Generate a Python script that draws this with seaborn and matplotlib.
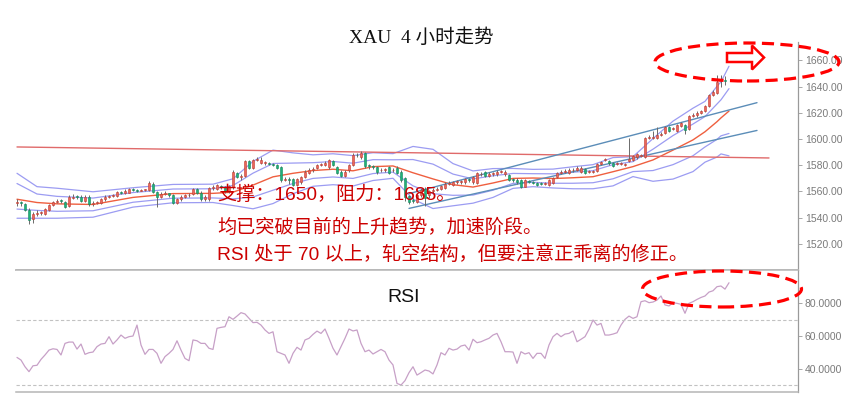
import numpy as np
import pandas as pd
import seaborn as sns
import matplotlib.pyplot as plt
from matplotlib.patches import Ellipse, Polygon

sns.set_style("white")
plt.rcParams['font.family'] = ['Liberation Sans', 'Noto Sans CJK SC', 'DejaVu Sans']

# XAU 4h candles (oldest -> newest)
candle_open = [
    1551, 1552, 1550, 1546, 1539, 1543, 1543.5, 1543, 1546, 1549.6,
    1552, 1553, 1552, 1549, 1555, 1556, 1556, 1553, 1556, 1550,
    1551, 1551, 1554, 1556, 1556.5, 1556.5, 1559.6, 1559, 1559, 1561.5,
    1561, 1560.5, 1561, 1561, 1566, 1559.5, 1555.7, 1558, 1558.5, 1557,
    1551, 1554, 1556, 1557, 1558, 1561.8, 1559, 1554, 1554, 1562.6,
    1562, 1564, 1563.5, 1560, 1563, 1574, 1571, 1572, 1583, 1578,
    1584, 1582, 1582, 1581.5, 1580.5, 1580, 1578.6, 1569, 1569.5, 1569.5,
    1565, 1567, 1571, 1574, 1576, 1578, 1580, 1580.5, 1578.6, 1583,
    1578.6, 1575, 1572, 1576, 1580, 1587.8, 1586, 1589, 1579.5, 1579,
    1578.6, 1576, 1576.5, 1578.6, 1576, 1578, 1574.8, 1570, 1556.5, 1553.5,
    1552, 1557, 1562, 1557, 1560, 1561, 1562, 1562.6, 1566, 1565,
    1567, 1567, 1567, 1569, 1567, 1566.4, 1573, 1574.8, 1572, 1573,
    1573, 1575, 1573, 1572.5, 1568.7, 1569, 1568.7, 1563.5, 1568, 1567,
    1566.5, 1566, 1566, 1565, 1566.4, 1571, 1574, 1575, 1574, 1576,
    1576.5, 1575, 1577, 1574.8, 1575, 1575.6, 1581, 1584, 1583, 1581.7,
    1581, 1581, 1580, 1583, 1584, 1586, 1587, 1586, 1601, 1601,
    1600.8, 1603, 1604.6, 1609, 1607.6, 1606, 1610, 1610.7, 1607.6, 1617.5,
    1618, 1620, 1621.4, 1625, 1633.6, 1635, 1645, 1645, 1665]
candle_close = [
    1552, 1551, 1546, 1538, 1543, 1543.5, 1544, 1546.5, 1549.6, 1552,
    1553, 1552.5, 1548, 1555.7, 1556, 1555.5, 1553, 1556, 1550, 1551,
    1551.5, 1554, 1556, 1556.5, 1556.5, 1559.6, 1559, 1560.5, 1561.8, 1561,
    1560.5, 1561, 1561, 1566.4, 1559.5, 1555.7, 1558, 1558.5, 1557, 1551,
    1554, 1556, 1557, 1557.5, 1561.8, 1559, 1554, 1556, 1562.6, 1563,
    1565, 1563.5, 1560, 1564, 1575, 1571, 1571.5, 1583, 1578, 1584,
    1584.5, 1584, 1582, 1581, 1580, 1578, 1568.7, 1569.5, 1569, 1565,
    1569.5, 1571, 1575, 1576.5, 1577, 1580, 1580.5, 1582, 1584, 1580,
    1574, 1572, 1575, 1580, 1587.8, 1587.5, 1589, 1579, 1579.4, 1578.6,
    1574.5, 1576.6, 1576.5, 1574, 1576.6, 1574, 1568.7, 1555.7, 1552, 1553,
    1557, 1561, 1555, 1560, 1561, 1562, 1564, 1566, 1566.4, 1567,
    1567, 1567.5, 1569.5, 1568.7, 1571, 1574, 1573, 1571.7, 1573, 1574,
    1575, 1575, 1575, 1568.7, 1568.5, 1567, 1563.5, 1568.7, 1567.5, 1566.5,
    1565, 1565.5, 1566.4, 1568.7, 1570, 1574, 1575, 1575.5, 1576, 1576,
    1577.5, 1578, 1574, 1575, 1575, 1581, 1582.5, 1584, 1581.5, 1579.4,
    1581, 1581, 1580, 1585, 1587, 1588.5, 1587, 1600.8, 1601.5, 1601,
    1603, 1603, 1609, 1606, 1607.6, 1610.7, 1612, 1607, 1617.5, 1618,
    1620, 1621, 1625, 1633.6, 1636, 1643.5, 1645, 1644.5, 1663.5]
candle_high = [
    1554, 1553, 1551, 1547, 1544, 1546, 1545, 1547, 1550.5, 1553,
    1554, 1554, 1553, 1557, 1558, 1557, 1557, 1557, 1557, 1552.5,
    1553, 1555, 1557, 1557.5, 1558, 1560.5, 1560.5, 1561.5, 1562.5, 1562.5,
    1562, 1562, 1562, 1568, 1567, 1560, 1559.5, 1560, 1559, 1558,
    1555, 1557, 1558, 1558.5, 1562.5, 1562.5, 1560, 1557, 1563.5, 1565,
    1566, 1565, 1564, 1565, 1576, 1575, 1573, 1584, 1584, 1585,
    1586, 1586, 1583.5, 1582.5, 1581.5, 1581, 1579, 1571, 1571, 1570,
    1570, 1572, 1576, 1577.5, 1578.5, 1581, 1582, 1583, 1585, 1584,
    1579.5, 1576, 1576, 1581, 1589, 1589, 1591, 1590, 1581, 1580,
    1579.5, 1578, 1578, 1579.5, 1578, 1579, 1576, 1571, 1557.5, 1555,
    1558, 1562.5, 1563, 1561, 1562.5, 1563.5, 1565, 1567, 1568, 1568,
    1568.5, 1569, 1570.5, 1570.5, 1572, 1575, 1574.5, 1575.5, 1574.5, 1575,
    1576, 1576.5, 1576, 1573.5, 1570, 1570, 1569.5, 1569.5, 1569, 1568,
    1567, 1567, 1567.5, 1569.5, 1571, 1575, 1576, 1577, 1577.5, 1577.5,
    1579, 1579, 1578, 1576.5, 1576.5, 1582, 1583.5, 1585.5, 1584, 1582.5,
    1582.5, 1582.5, 1581.5, 1601, 1588, 1589.5, 1588.5, 1601.5, 1603, 1606,
    1609, 1605, 1610, 1610, 1609, 1611.5, 1613, 1611.5, 1618.5, 1620,
    1621, 1622, 1626, 1634.5, 1637, 1649, 1649, 1648, 1666]
candle_low = [
    1549, 1549, 1545, 1535, 1536, 1541, 1542, 1542, 1545, 1548.5,
    1551, 1551, 1547, 1548, 1554, 1554, 1552, 1552, 1549, 1549,
    1550, 1550, 1553, 1555, 1555.5, 1556, 1558, 1558, 1558.5, 1560,
    1559.5, 1560, 1560, 1560.5, 1559, 1548, 1555, 1557, 1556, 1550,
    1550, 1553, 1555, 1556, 1557, 1558, 1553, 1553, 1553, 1561,
    1561, 1562, 1559, 1559, 1562, 1570, 1569, 1571, 1577, 1577,
    1583, 1581, 1580.5, 1580, 1579, 1577, 1567, 1568, 1566, 1564,
    1564, 1566, 1570, 1573, 1575, 1577, 1579, 1579.5, 1577, 1579,
    1573, 1571, 1571, 1575, 1579, 1586, 1585, 1578, 1577, 1577,
    1573.5, 1575, 1575, 1573, 1575, 1573, 1567.5, 1553, 1550.5, 1551,
    1551, 1556, 1549, 1555, 1558.5, 1560, 1561, 1562, 1565, 1564,
    1566, 1566, 1566, 1567.5, 1566, 1565.5, 1572, 1571, 1571, 1572,
    1572, 1574, 1572, 1568, 1567.5, 1566, 1562.5, 1563, 1566.5, 1565.5,
    1564, 1564.5, 1565, 1564, 1565.5, 1570, 1573, 1574, 1573, 1575,
    1575.5, 1574, 1573, 1574, 1574, 1575, 1580, 1583, 1580.5, 1578.5,
    1580, 1580, 1579, 1582.5, 1583, 1585, 1586, 1585.5, 1600, 1600,
    1600, 1602, 1604, 1605, 1606.5, 1605.5, 1609, 1604, 1607, 1616.5,
    1617, 1619, 1620.5, 1624.5, 1632.5, 1634, 1640, 1641, 1663]

# band lines (20-period average with 1 and 2 sigma envelopes), sampled by candle
band_idx = [0, 5, 10, 19, 29, 39, 49, 54, 59, 64, 69, 74, 79, 84, 89, 94, 99, 104,
            109, 114, 119, 124, 129, 134, 139, 144, 149, 154, 159, 164, 169, 172,
            175, 176, 178]
bb_upper2 = [1573.8, 1563.6, 1562.4, 1559.7, 1562.8, 1565.3, 1565.5, 1569.6, 1582.9,
             1591.5, 1589.4, 1587.9, 1588.7, 1587.3, 1589.5, 1588.8, 1594.3, 1592.1,
             1581.2, 1575.6, 1577.4, 1577.5, 1576.8, 1577.0, 1578.8, 1580.4, 1585.8,
             1586.5, 1600.3, 1613.6, 1623.5, 1628.7, 1640.2, 1643.6, 1655.5]
bb_upper1 = [1566.0, 1558.0, 1556.2, 1554.9, 1559.1, 1561.8, 1562.0, 1564.5, 1573.9,
             1581.3, 1581.6, 1581.9, 1582.8, 1581.5, 1584.2, 1584.1, 1584.3, 1580.8,
             1573.2, 1569.5, 1571.9, 1573.7, 1573.5, 1573.4, 1574.6, 1575.8, 1580.4,
             1582.7, 1592.2, 1602.6, 1611.4, 1617.1, 1626.7, 1629.9, 1638.4]
ma20 = [1554.0, 1551.5, 1550.5, 1550.0, 1555.4, 1558.3, 1558.5, 1559.4, 1564.8,
        1571.1, 1573.8, 1575.9, 1576.9, 1575.7, 1578.9, 1579.4, 1574.2, 1569.5,
        1565.1, 1563.3, 1566.4, 1569.9, 1570.2, 1569.8, 1570.4, 1571.2, 1575.0,
        1578.9, 1584.0, 1591.5, 1599.3, 1605.5, 1613.2, 1616.1, 1621.3]
bb_lower1 = [1546.5, 1545.5, 1544.8, 1545.2, 1551.7, 1554.8, 1555.0, 1554.3, 1555.7,
             1560.9, 1566.0, 1569.9, 1571.0, 1569.9, 1573.6, 1574.7, 1564.2, 1558.2,
             1557.0, 1557.2, 1560.9, 1566.1, 1566.9, 1566.2, 1566.2, 1566.6, 1569.6,
             1575.1, 1575.9, 1580.4, 1587.2, 1593.9, 1599.7, 1602.4, 1604.2]
bb_lower2 = [1539.5, 1539.5, 1539.5, 1540.3, 1548.0, 1551.3, 1551.5, 1549.2, 1546.7,
             1550.7, 1558.2, 1563.9, 1565.1, 1564.1, 1568.3, 1570.0, 1554.1, 1546.9,
             1549.0, 1551.0, 1555.4, 1562.3, 1563.6, 1562.6, 1562.0, 1562.0, 1564.2,
             1571.3, 1567.7, 1569.4, 1575.1, 1582.3, 1586.2, 1588.6, 1587.1]

# hand-drawn trend lines (candle index, price)
resist_idx = [0, 188]
resist_val = [1593.9, 1585.5]
chan_up_idx = [98, 185]
chan_up_val = [1558.3, 1627.7]
chan_low_idx = [98, 185]
chan_low_val = [1547.0, 1606.5]

rsi_values = [
    46.9, 45.3, 41.2, 38.2, 41.8, 42.1, 45.7, 48.4, 51.4, 52.2,
    51.8, 48.4, 55.5, 56.3, 56.3, 52.0, 55.1, 48.8, 49.8, 50.2,
    53.5, 55.1, 55.5, 59.6, 55.1, 57.6, 60.6, 58.6, 59.6, 60.0,
    66.7, 54.5, 48.8, 51.8, 51.8, 49.4, 43.3, 47.4, 49.4, 51.8,
    57.1, 51.4, 46.3, 44.9, 57.6, 57.1, 55.5, 55.5, 52.5, 51.8,
    64.7, 65.3, 65.7, 71.8, 70.2, 72.2, 74.3, 73.5, 70.8, 68.2,
    68.4, 66.7, 63.7, 61.6, 62.6, 50.4, 49.4, 48.4, 43.3, 49.4,
    53.1, 51.4, 57.6, 58.6, 61.0, 63.0, 61.6, 64.3, 58.6, 52.5,
    48.4, 53.5, 58.6, 64.3, 63.1, 63.7, 55.5, 50.4, 51.4, 49.0,
    50.4, 51.8, 50.4, 45.3, 42.3, 31.0, 30.0, 32.7, 37.6, 41.2,
    36.1, 37.6, 39.2, 38.6, 36.8, 42.3, 49.8, 48.4, 52.5, 51.4,
    52.0, 53.9, 54.5, 51.4, 58.0, 55.9, 56.5, 57.6, 58.6, 60.6,
    61.6, 56.5, 50.4, 50.4, 50.2, 43.3, 50.4, 49.0, 49.8, 46.3,
    49.4, 49.4, 46.3, 54.5, 59.6, 61.6, 59.6, 61.2, 61.6, 63.1,
    56.5, 58.0, 59.6, 64.1, 69.8, 66.7, 67.7, 60.6, 60.6, 61.2,
    62.0, 66.7, 70.2, 72.2, 70.8, 71.8, 81.0, 81.6, 80.4, 80.8,
    82.0, 84.5, 79.0, 78.4, 80.4, 80.0, 79.4, 73.9, 80.0, 81.0,
    82.4, 83.6, 84.5, 86.9, 87.7, 90.2, 90.6, 88.7, 92.6]
rsi_levels = [70, 30]

price_ticks = [1520, 1540, 1560, 1580, 1600, 1620, 1640, 1660]
rsi_ticks = [40, 60, 80]

title_text = 'XAU  4 小时走势'
notes = ['支撑：1650，阻力：1685。',
         '均已突破目前的上升趋势，加速阶段。',
         'RSI 处于 70 以上，轧空结构，但要注意正乖离的修正。']

W, H = 844, 401


def fx(px):
    return px / W


def fy(py):
    return 1 - py / H


fig = plt.figure(figsize=(W / 100, H / 100), dpi=100)
ax_p = fig.add_axes([fx(16), fy(270), fx(798) - fx(16), fy(42) - fy(270)])
ax_r = fig.add_axes([fx(16), fy(392), fx(798) - fx(16), fy(270) - fy(392)])

# candles (red = up, green = down)
o = np.array(candle_open, dtype=float)
c = np.array(candle_close, dtype=float)
idx = np.arange(len(c))
up = c >= o
body_lo = np.minimum(o, c)
body_h = np.maximum(np.abs(c - o), 0.6)
ax_p.vlines(idx, candle_low, candle_high, color='#6b6b6b', lw=0.7, zorder=3)
ax_p.bar(idx[up], body_h[up], bottom=body_lo[up], width=0.72, color='#e9675b',
         edgecolor='#c23b30', linewidth=0.4, zorder=4)
ax_p.bar(idx[~up], body_h[~up], bottom=body_lo[~up], width=0.72, color='#1fb27a',
         edgecolor='#14875b', linewidth=0.4, zorder=4)

bands = pd.DataFrame({'idx': band_idx, 'u2': bb_upper2, 'u1': bb_upper1,
                      'ma': ma20, 'l1': bb_lower1, 'l2': bb_lower2})
for col in ['u2', 'u1', 'l1', 'l2']:
    sns.lineplot(data=bands, x='idx', y=col, ax=ax_p, color='#9c9cf2', lw=0.9,
                 estimator=None, zorder=2)
sns.lineplot(data=bands, x='idx', y='ma', ax=ax_p, color='#ef5f3f', lw=1.0,
             estimator=None, zorder=2)

ax_p.plot(resist_idx, resist_val, color='#e06a6a', lw=1.0, zorder=2)
ax_p.plot(chan_up_idx, chan_up_val, color='#5b8db8', lw=1.0, zorder=2)
ax_p.plot(chan_low_idx, chan_low_val, color='#5b8db8', lw=1.0, zorder=2)

# RSI panel
sns.lineplot(x=idx, y=rsi_values, ax=ax_r, color='#c7a0c7', lw=0.9, estimator=None)
for lvl in rsi_levels:
    ax_r.axhline(lvl, color='#c2c2c2', lw=0.8, ls=(0, (3, 2)))

for ax in (ax_p, ax_r):
    ax.set_xlim(-0.25, 195.25)
    ax.set_xticks([])
    ax.set_xlabel('')
    ax.set_ylabel('')
    ax.yaxis.tick_right()
    ax.spines['left'].set_visible(False)
    ax.spines['top'].set_visible(False)
    ax.spines['right'].set_color('#9a9a9a')
    ax.spines['right'].set_linewidth(0.9)
    ax.spines['bottom'].set_color('#b5b5b5')
    ax.spines['bottom'].set_linewidth(1.1)
    ax.tick_params(axis='y', labelsize=7.5, labelcolor='#7a7a7a', color='#9a9a9a',
                   length=3, width=0.6, pad=2)
# separator between the two panels
ax_r.spines['top'].set_visible(True)
ax_r.spines['top'].set_color('#b5b5b5')
ax_r.spines['top'].set_linewidth(1.1)

ax_p.set_ylim(1500, 1674)
ax_p.set_yticks(price_ticks)
ax_p.set_yticklabels([f'{v:.2f}' for v in price_ticks])
ax_r.set_ylim(25.75, 100.4)
ax_r.set_yticks(rsi_ticks)
ax_r.set_yticklabels([f'{v:.4f}' for v in rsi_ticks])

# texts
fig.text(fx(421), fy(38), title_text, ha='center', va='center', fontsize=14,
         color='#111111', family=['Liberation Serif', 'Noto Sans CJK SC'])
for txt, ypx in zip(notes, [195, 228, 255]):
    fig.text(fx(217), fy(ypx), txt, ha='left', va='center', fontsize=13.8,
             color='#cc0000', family=['Liberation Sans', 'Noto Sans CJK SC'])
fig.text(fx(404), fy(297), 'RSI', ha='center', va='center', fontsize=14, color='#111111')

# red dashed highlight ellipses and the hollow arrow
for cx, cy, ew, eh in [(747, 62, 184, 38), (722, 289, 159, 36)]:
    fig.add_artist(Ellipse((fx(cx), fy(cy)), ew / W, eh / H, transform=fig.transFigure,
                           fill=False, edgecolor='#ff0000', lw=2.3, ls=(0, (3.8, 2.0)),
                           zorder=10))
arrow_px = [(727, 53), (752, 53), (752, 45.5), (764, 57.5), (752, 69.5), (752, 62), (727, 62)]
fig.add_artist(Polygon([(fx(x), fy(y)) for x, y in arrow_px], closed=True,
                       transform=fig.transFigure, facecolor='white',
                       edgecolor='#ff0000', lw=1.8, zorder=11))

fig.savefig('out.png', dpi=100)
